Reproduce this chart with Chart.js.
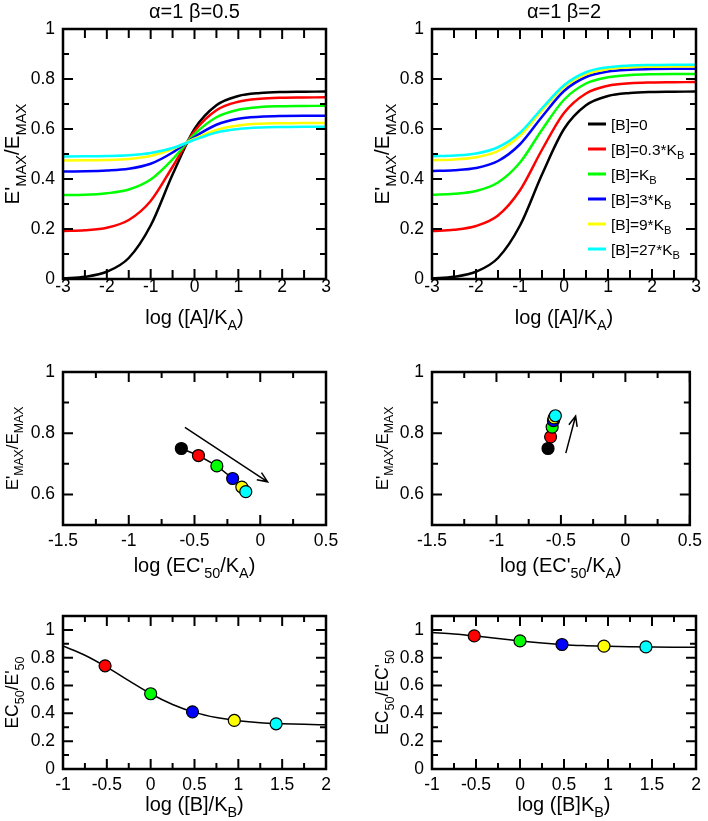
<!DOCTYPE html>
<html>
<head>
<meta charset="utf-8">
<script src="https://cdn.jsdelivr.net/npm/chart.js@4.4.0/dist/chart.umd.min.js"></script>
<style>
  html, body { margin: 0; padding: 0; background: #fff; }
  #wrap { position: relative; width: 708px; height: 821px; }
  .panel { position: absolute; }
</style>
</head>
<body>
<div id="wrap">
  <div class="panel" style="left:0;top:0;width:354px;height:335px"><canvas id="curves05"></canvas></div>
  <div class="panel" style="left:354px;top:0;width:354px;height:335px"><canvas id="curves2"></canvas></div>
  <div class="panel" style="left:0;top:335px;width:354px;height:245px"><canvas id="shift05"></canvas></div>
  <div class="panel" style="left:354px;top:335px;width:354px;height:245px"><canvas id="shift2"></canvas></div>
  <div class="panel" style="left:0;top:580px;width:354px;height:241px"><canvas id="ratio05"></canvas></div>
  <div class="panel" style="left:354px;top:580px;width:354px;height:241px"><canvas id="ratio2"></canvas></div>
</div>
<script>
// ---- series colours / labels ----
const SERIES_COLORS = ['#000000', '#ff0000', '#00ff00', '#0000ff', '#ffff00', '#00ffff'];
const SERIES_LABELS = ['[B]=0', '[B]=0.3*K_{B}', '[B]=K_{B}', '[B]=3*K_{B}', '[B]=9*K_{B}', '[B]=27*K_{B}'];
const POINT_COLORS = ['#ff0000', '#00ff00', '#0000ff', '#ffff00', '#00ffff'];

// ---- top row: E'max/Emax vs log([A]/KA) ----
const logA = [-3, -2.5, -2, -1.5, -1, -0.5, 0, 0.5, 1, 1.5, 2, 2.5, 3];
const beta05_B0   = [0.003, 0.009, 0.029, 0.084, 0.214, 0.418, 0.600, 0.695, 0.732, 0.744, 0.748, 0.749, 0.750];
const beta05_B03  = [0.192, 0.195, 0.205, 0.236, 0.312, 0.449, 0.591, 0.675, 0.709, 0.721, 0.725, 0.726, 0.727];
const beta05_B1   = [0.336, 0.337, 0.343, 0.358, 0.398, 0.479, 0.579, 0.647, 0.677, 0.688, 0.691, 0.692, 0.693];
const beta05_B3   = [0.430, 0.431, 0.434, 0.441, 0.461, 0.506, 0.568, 0.617, 0.641, 0.649, 0.652, 0.653, 0.653];
const beta05_B9   = [0.474, 0.475, 0.476, 0.480, 0.492, 0.520, 0.561, 0.596, 0.614, 0.621, 0.623, 0.624, 0.624];
const beta05_B27  = [0.490, 0.491, 0.492, 0.495, 0.504, 0.524, 0.557, 0.586, 0.600, 0.606, 0.608, 0.609, 0.609];

const beta2_B0    = [0.003, 0.009, 0.029, 0.084, 0.214, 0.418, 0.600, 0.695, 0.732, 0.744, 0.748, 0.749, 0.750];
const beta2_B03   = [0.192, 0.197, 0.212, 0.254, 0.355, 0.517, 0.664, 0.742, 0.773, 0.783, 0.786, 0.787, 0.788];
const beta2_B1    = [0.337, 0.341, 0.352, 0.386, 0.466, 0.597, 0.717, 0.782, 0.807, 0.816, 0.819, 0.820, 0.820];
const beta2_B3    = [0.432, 0.435, 0.444, 0.472, 0.539, 0.649, 0.752, 0.808, 0.830, 0.837, 0.840, 0.841, 0.841];
const beta2_B9    = [0.475, 0.478, 0.487, 0.512, 0.573, 0.674, 0.768, 0.819, 0.840, 0.847, 0.849, 0.850, 0.850];
const beta2_B27   = [0.491, 0.494, 0.502, 0.527, 0.585, 0.683, 0.775, 0.827, 0.847, 0.854, 0.856, 0.857, 0.857];

// ---- middle row: E'max/Emax vs log(EC'50/KA) ----
const beta05_logEC50 = [-0.60, -0.47, -0.33, -0.21, -0.14, -0.11];
const beta05_Emax    = [0.750, 0.727, 0.693, 0.652, 0.624, 0.609];
const beta2_logEC50  = [-0.60, -0.58, -0.568, -0.558, -0.553, -0.543];
const beta2_Emax     = [0.750, 0.788, 0.820, 0.841, 0.850, 0.857];
const beta05_arrow   = [[-0.573, 0.819], [0.056, 0.641]];
const beta2_arrow    = [[-0.462, 0.735], [-0.386, 0.856]];

// ---- bottom row: EC50/EC'50 vs log([B]/KB) ----
const logB = [-1, -0.75, -0.5, -0.25, 0, 0.25, 0.5, 0.75, 1, 1.25, 1.5, 1.75, 2];
const beta05_ratioCurve = [0.884, 0.818, 0.732, 0.635, 0.541, 0.464, 0.407, 0.370, 0.347, 0.333, 0.326, 0.321, 0.318];
const beta2_ratioCurve  = [0.982, 0.971, 0.956, 0.939, 0.921, 0.906, 0.894, 0.887, 0.882, 0.879, 0.877, 0.876, 0.876];
const logBPoints = [-0.52, 0, 0.477, 0.954, 1.431];
const beta05_ratioPoints = [0.742, 0.541, 0.411, 0.349, 0.325];
const beta2_ratioPoints  = [0.957, 0.921, 0.895, 0.883, 0.878];

// ---- tick positions ----
const curveXLabels = [-3, -2, -1, 0, 1, 2, 3];
const curveXMinor  = [-2.5, -1.5, -0.5, 0.5, 1.5, 2.5];
const curveYLabels = [0, 0.2, 0.4, 0.6, 0.8, 1];
const curveYMinor  = [0.1, 0.3, 0.5, 0.7, 0.9];
const shiftXLabels = [-1.5, -1, -0.5, 0, 0.5];
const shiftXMinor  = [-1.25, -0.75, -0.25, 0.25];
const shiftYLabels = [0.6, 0.8, 1];
const shiftYMinor  = [0.7, 0.9];
const ratioXLabels = [-1, -0.5, 0, 0.5, 1, 1.5, 2];
const ratioXMinor  = [-0.75, -0.25, 0.25, 0.75, 1.25, 1.75];
const ratioYLabels = [0, 0.2, 0.4, 0.6, 0.8, 1];
const ratioYMinor  = [0.1, 0.3, 0.5, 0.7, 0.9];

const FONT = '"Liberation Sans", Arial, Helvetica, sans-serif';
const TICK_SIZE = 17.5;

function fmtTick(v) {
    const n = Math.round(v * 100) / 100;
    return n === 0 ? '0' : String(n);
}

function toPoints(xs, ys) {
    return xs.map((x, i) => ({ x: x, y: ys[i] }));
}

/**
 * Splits "E'_{MAX}" style text into normal and subscript runs
 */
function parseRich(text) {
    const parts = [];
    const re = /_\{([^}]*)\}/g;
    let last = 0, m;
    while ((m = re.exec(text))) {
        if (m.index > last) parts.push({ t: text.slice(last, m.index), sub: false });
        parts.push({ t: m[1], sub: true });
        last = re.lastIndex;
    }
    if (last < text.length) parts.push({ t: text.slice(last), sub: false });
    return parts;
}

/**
 * Draws text with subscripts; y is the visual middle of the capitals
 */
function drawRich(ctx, text, x, y, size, align, rotate) {
    const parts = parseRich(text);
    const subSize = size * 0.72;
    ctx.save();
    ctx.translate(x, y);
    if (rotate) ctx.rotate(-Math.PI / 2);
    ctx.fillStyle = '#000';
    ctx.textBaseline = 'alphabetic';
    ctx.textAlign = 'left';
    let total = 0;
    parts.forEach(p => {
        ctx.font = (p.sub ? subSize : size) + 'px ' + FONT;
        p.w = ctx.measureText(p.t).width;
        total += p.w;
    });
    let cx = align === 'left' ? 0 : -total / 2;
    const base = size * 0.36;
    parts.forEach(p => {
        ctx.font = (p.sub ? subSize : size) + 'px ' + FONT;
        ctx.fillText(p.t, cx, base + (p.sub ? size * 0.3 : 0));
        cx += p.w;
    });
    ctx.restore();
}

/**
 * Frame, inward ticks, titles, arrows and legend for one panel
 */
function makeDecor(cfg) {
    return {
        id: 'decor',
        afterDatasetsDraw(chart) {
            const { ctx, chartArea: a, scales } = chart;
            ctx.save();
            ctx.strokeStyle = '#000';
            ctx.lineCap = 'butt';

            // arrows
            (cfg.arrows || []).forEach(arr => {
                const x0 = scales.x.getPixelForValue(arr[0][0]);
                const y0 = scales.y.getPixelForValue(arr[0][1]);
                const x1 = scales.x.getPixelForValue(arr[1][0]);
                const y1 = scales.y.getPixelForValue(arr[1][1]);
                const ang = Math.atan2(y1 - y0, x1 - x0);
                ctx.lineWidth = 1.5;
                ctx.beginPath();
                ctx.moveTo(x0, y0);
                ctx.lineTo(x1, y1);
                ctx.moveTo(x1 - 11 * Math.cos(ang - 0.4), y1 - 11 * Math.sin(ang - 0.4));
                ctx.lineTo(x1, y1);
                ctx.lineTo(x1 - 11 * Math.cos(ang + 0.4), y1 - 11 * Math.sin(ang + 0.4));
                ctx.stroke();
            });

            // ticks on all four sides, pointing inward
            ctx.lineWidth = 2;
            const drawX = (vals, len) => vals.forEach(v => {
                const px = scales.x.getPixelForValue(v);
                ctx.beginPath();
                ctx.moveTo(px, a.bottom); ctx.lineTo(px, a.bottom - len);
                ctx.moveTo(px, a.top); ctx.lineTo(px, a.top + len);
                ctx.stroke();
            });
            const drawY = (vals, len) => vals.forEach(v => {
                const py = scales.y.getPixelForValue(v);
                ctx.beginPath();
                ctx.moveTo(a.left, py); ctx.lineTo(a.left + len, py);
                ctx.moveTo(a.right, py); ctx.lineTo(a.right - len, py);
                ctx.stroke();
            });
            drawX(cfg.xLabels, 10);
            drawX(cfg.xMinor, cfg.xMinorLen || 6);
            drawY(cfg.yLabels, 10);
            drawY(cfg.yMinor, 6);

            ctx.lineWidth = 2.5;
            ctx.strokeRect(a.left, a.top, a.right - a.left, a.bottom - a.top);

            // legend
            if (cfg.legend) {
                const lg = cfg.legend;
                chart.data.datasets.forEach((ds, i) => {
                    const y = a.top + lg.y + i * lg.step;
                    const x = a.left + lg.x;
                    ctx.strokeStyle = ds.borderColor;
                    ctx.lineWidth = 3;
                    ctx.beginPath();
                    ctx.moveTo(x, y); ctx.lineTo(x + 18, y);
                    ctx.stroke();
                    drawRich(ctx, ds.label, x + 23, y, 15.5, 'left', false);
                });
            }

            // texts
            const cxMid = (a.left + a.right) / 2;
            if (cfg.title) drawRich(ctx, cfg.title, cxMid, cfg.titleY, 20, 'center', false);
            drawRich(ctx, cfg.xTitle, cxMid, cfg.xTitleY, 20, 'center', false);
            drawRich(ctx, cfg.yTitle, cfg.yTitleX, (a.top + a.bottom) / 2, cfg.yTitleSize, 'center', true);
            ctx.restore();
        }
    };
}

function makePanel(id, cfg, datasets) {
    const ctx = document.getElementById(id).getContext('2d');
    return new Chart(ctx, {
        type: 'line',
        data: { datasets: datasets },
        options: {
            responsive: true,
            maintainAspectRatio: false,
            animation: false,
            events: [],
            layout: { padding: { left: 0, right: cfg.padRight, top: cfg.padTop, bottom: 0 } },
            plugins: { legend: { display: false }, tooltip: { enabled: false } },
            scales: {
                x: {
                    type: 'linear',
                    min: cfg.xMin, max: cfg.xMax,
                    grid: { display: false, drawTicks: false },
                    border: { display: false },
                    afterFit: s => { s.height = cfg.xH; },
                    afterBuildTicks: s => { s.ticks = cfg.xLabels.map(v => ({ value: v })); },
                    ticks: {
                        padding: cfg.xPad, maxRotation: 0, autoSkip: false, color: '#000',
                        font: { family: FONT, size: TICK_SIZE }, callback: fmtTick
                    }
                },
                y: {
                    type: 'linear',
                    min: cfg.yMin, max: cfg.yMax,
                    grid: { display: false, drawTicks: false },
                    border: { display: false },
                    afterFit: s => { s.width = cfg.yW; },
                    afterBuildTicks: s => { s.ticks = cfg.yLabels.map(v => ({ value: v })); },
                    ticks: {
                        padding: 8, autoSkip: false, color: '#000',
                        font: { family: FONT, size: TICK_SIZE }, callback: fmtTick
                    }
                }
            }
        },
        plugins: [makeDecor(cfg)]
    });
}

function curveSets(series) {
    return series.map((ys, i) => ({
        label: SERIES_LABELS[i],
        data: toPoints(logA, ys),
        borderColor: SERIES_COLORS[i],
        borderWidth: 2.5,
        pointRadius: 0,
        cubicInterpolationMode: 'monotone',
        order: series.length - i
    }));
}

function shiftSets(xs, ys) {
    return [{
        label: 'shift',
        data: toPoints(xs, ys),
        showLine: true,
        borderColor: '#000',
        borderWidth: 1.5,
        pointRadius: 6,
        pointBackgroundColor: SERIES_COLORS,
        pointBorderColor: '#000',
        pointBorderWidth: 1.2
    }];
}

function ratioSets(curve, pts) {
    return [{
        label: 'points',
        data: toPoints(logBPoints, pts),
        showLine: false,
        pointRadius: 6,
        pointBackgroundColor: POINT_COLORS,
        pointBorderColor: '#000',
        pointBorderWidth: 1.2,
        order: 0
    }, {
        label: 'curve',
        data: toPoints(logB, curve),
        borderColor: '#000',
        borderWidth: 1.5,
        pointRadius: 0,
        cubicInterpolationMode: 'monotone',
        order: 1
    }];
}

const LEFT = { yW: 63, padRight: 28, yTitleX: 12 };
const RIGHT = { yW: 78, padRight: 12, yTitleX: 28 };
const ROW1 = { padTop: 29, xH: 56, xPad: -2, titleY: 11, xTitleY: 317,
    xMin: -3, xMax: 3, yMin: 0, yMax: 1,
    xLabels: curveXLabels, xMinor: curveXMinor, xMinorLen: 9, yLabels: curveYLabels, yMinor: curveYMinor,
    xTitle: 'log ([A]/K_{A})', yTitle: "E'_{MAX}/E_{MAX}", yTitleSize: 20.5 };
const ROW2 = { padTop: 37, xH: 55, xPad: 6, xTitleY: 229.5,
    xMin: -1.5, xMax: 0.5, yMin: 0.5, yMax: 1,
    xLabels: shiftXLabels, xMinor: shiftXMinor, yLabels: shiftYLabels, yMinor: shiftYMinor,
    xTitle: "log (EC'_{50}/K_{A})", yTitle: "E'_{MAX}/E_{MAX}", yTitleSize: 17 };
const ROW3 = { padTop: 36, xH: 52, xPad: 6, xTitleY: 223.5,
    xMin: -1, xMax: 2, yMin: 0, yMax: 1.1,
    xLabels: ratioXLabels, xMinor: ratioXMinor, yLabels: ratioYLabels, yMinor: ratioYMinor };

makePanel('curves05', Object.assign({}, ROW1, LEFT, { title: 'α=1 β=0.5' }),
    curveSets([beta05_B0, beta05_B03, beta05_B1, beta05_B3, beta05_B9, beta05_B27]));
makePanel('curves2', Object.assign({}, ROW1, RIGHT, { title: 'α=1 β=2', legend: { x: 156, y: 95, step: 25 } }),
    curveSets([beta2_B0, beta2_B03, beta2_B1, beta2_B3, beta2_B9, beta2_B27]));
makePanel('shift05', Object.assign({}, ROW2, LEFT, { arrows: [beta05_arrow] }),
    shiftSets(beta05_logEC50, beta05_Emax));
makePanel('shift2', Object.assign({}, ROW2, RIGHT, { arrows: [beta2_arrow] }),
    shiftSets(beta2_logEC50, beta2_Emax));
makePanel('ratio05', Object.assign({}, ROW3, LEFT, { xTitle: 'log ([B]/K_{B})', yTitle: "EC_{50}/E'_{50}", yTitleSize: 17.5 }),
    ratioSets(beta05_ratioCurve, beta05_ratioPoints));
makePanel('ratio2', Object.assign({}, ROW3, RIGHT, { xTitle: 'log ([B]K_{B})', yTitle: "EC_{50}/EC'_{50}", yTitleSize: 17.5 }),
    ratioSets(beta2_ratioCurve, beta2_ratioPoints));
</script>
</body>
</html>
